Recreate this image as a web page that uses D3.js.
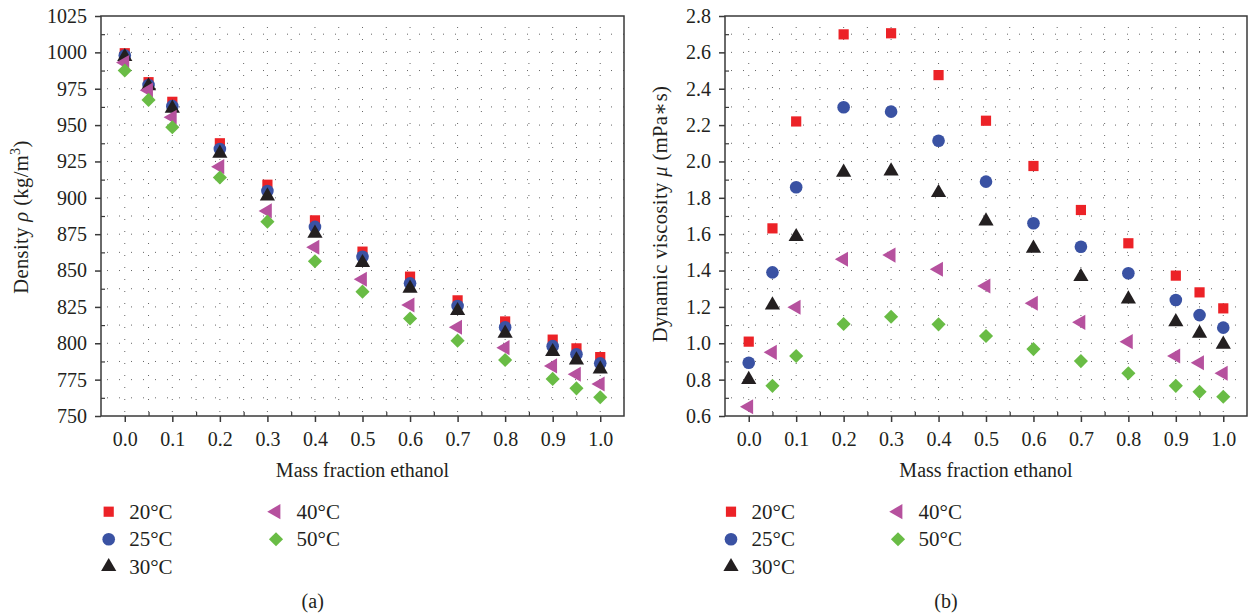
<!DOCTYPE html>
<html><head><meta charset="utf-8">
<script src="https://cdn.jsdelivr.net/npm/d3@7"></script>
<style>
body{margin:0;background:#fff;}
svg{display:block;font-family:"Liberation Serif","DejaVu Serif",serif;}
</style></head>
<body><svg id="c" width="1253" height="616"></svg>
<script>
const massFraction = [0, 0.05, 0.1, 0.2, 0.3, 0.4, 0.5, 0.6, 0.7, 0.8, 0.9, 0.95, 1.0];
const seriesNames = ["20°C", "25°C", "30°C", "40°C", "50°C"];
const density20 = [999.4, 979.5, 966, 937.5, 909, 884.5, 863, 845.8, 829.5, 815, 802.5, 796.5, 790.5];
const density25 = [997.8, 977.6, 963, 933.6, 904.7, 880, 859.5, 841.2, 825.6, 811, 798, 792.4, 786.2];
const density30 = [997, 976.9, 961.5, 930.6, 901.2, 875.6, 855.4, 837.8, 822.4, 806.8, 794.2, 788.5, 782.3];
const density40 = [993, 974, 955.4, 921.4, 891, 866, 844, 826.3, 811, 797, 784.4, 778.7, 772];
const density50 = [987.5, 967.3, 948.5, 914, 883.6, 856.4, 835.5, 817, 801.8, 788.5, 775.5, 769, 762.9];
const visc20 = [1.009, 1.632, 2.22, 2.699, 2.705, 2.475, 2.224, 1.975, 1.733, 1.55, 1.372, 1.28, 1.192];
const visc25 = [0.893, 1.39, 1.858, 2.298, 2.274, 2.114, 1.889, 1.66, 1.531, 1.385, 1.238, 1.155, 1.086];
const visc30 = [0.80, 1.21, 1.586, 1.94, 1.947, 1.828, 1.672, 1.522, 1.366, 1.243, 1.118, 1.055, 0.994];
const visc40 = [0.651, 0.95, 1.198, 1.462, 1.485, 1.407, 1.315, 1.22, 1.115, 1.009, 0.93, 0.893, 0.835];
const visc50 = [null, 0.766, 0.93, 1.106, 1.146, 1.104, 1.04, 0.968, 0.902, 0.835, 0.766, 0.733, 0.706];
const xTicks = [0, 0.1, 0.2, 0.3, 0.4, 0.5, 0.6, 0.7, 0.8, 0.9, 1.0];
const densityTicks = [750, 775, 800, 825, 850, 875, 900, 925, 950, 975, 1000, 1025];
const viscTicks = [0.6, 0.8, 1.0, 1.2, 1.4, 1.6, 1.8, 2.0, 2.2, 2.4, 2.6, 2.8];

const colors = ["#ec2227", "#3a52a3", "#231f20", "#b6519e", "#69bc45"];
const svg = d3.select("#c");
const axisColor = "#3a3a3a";
const textColor = "#231f20";

function markerPath(i){
  if(i===0) return d3.symbol(d3.symbolSquare, 104)();
  if(i===1) return d3.symbol(d3.symbolCircle, 125)();
  if(i===2) return d3.symbol(d3.symbolTriangle, 100)();
  if(i===3) return d3.symbol(d3.symbolTriangle, 100)();
  return d3.symbol(d3.symbolSquare, 100)();
}
function markerRot(i){ return i===3 ? -90 : (i===4 ? 45 : 0); }

function panel(opt){
  const g = svg.append("g");
  const x = d3.scaleLinear().domain([-0.05, 1.05]).range([opt.left, opt.right]);
  const y = d3.scaleLinear().domain(opt.yDomain).range([416, 16]);
  const xs = d3.range(0, 21).map(k => k*0.05);
  const ys = d3.range(0, Math.round((opt.yDomain[1]-opt.yDomain[0])/opt.minor) + 1).map(k => opt.yDomain[0] + k*opt.minor);
  g.append("g").selectAll("line").data(xs).join("line")
    .attr("x1", d=>x(d)).attr("x2", d=>x(d)).attr("y1", 416).attr("y2", 16)
    .attr("stroke", "#666").attr("stroke-width", 1).attr("stroke-dasharray", "1,11").attr("stroke-dashoffset", -4);
  g.append("g").selectAll("line").data(ys.slice(1, -1)).join("line")
    .attr("y1", d=>y(d)).attr("y2", d=>y(d)).attr("x1", opt.left).attr("x2", opt.right)
    .attr("stroke", "#666").attr("stroke-width", 1).attr("stroke-dasharray", "1,11").attr("stroke-dashoffset", -6);
  g.append("rect").attr("x", opt.left).attr("y", 16).attr("width", opt.right-opt.left).attr("height", 400)
    .attr("fill", "none").attr("stroke", axisColor).attr("stroke-width", 1.5);
  const xAxis = d3.axisBottom(x).tickValues(xTicks).tickFormat(d3.format(".1f")).tickSize(6).tickPadding(10);
  const xa = g.append("g").attr("transform", "translate(0,416)").call(xAxis);
  xa.select(".domain").remove();
  xa.selectAll("line").attr("stroke", axisColor).attr("stroke-width", 1.5);
  xa.selectAll("text").attr("font-size", 20).attr("fill", textColor).attr("font-family", "Liberation Serif");
  const xMinor = d3.axisTop(x).tickValues(d3.range(0, 10).map(k => 0.05 + k*0.1)).tickSize(4).tickFormat("");
  const xm = g.append("g").attr("transform", "translate(0,416)").call(xMinor);
  xm.select(".domain").remove();
  xm.selectAll("line").attr("stroke", axisColor).attr("stroke-width", 1.2);
  const yAxis = d3.axisLeft(y).tickValues(opt.yTicks).tickFormat(opt.fmt).tickSize(6).tickPadding(8);
  const ya = g.append("g").attr("transform", `translate(${opt.left},0)`).call(yAxis);
  ya.select(".domain").remove();
  ya.selectAll("line").attr("stroke", axisColor).attr("stroke-width", 1.5);
  ya.selectAll("text").attr("font-size", 20).attr("fill", textColor).attr("font-family", "Liberation Serif");
  const yMinorVals = opt.yTicks.slice(0, -1).map((v, k) => (v + opt.yTicks[k+1]) / 2);
  const yMinor = d3.axisRight(y).tickValues(yMinorVals).tickSize(4).tickFormat("");
  const ym = g.append("g").attr("transform", `translate(${opt.left},0)`).call(yMinor);
  ym.select(".domain").remove();
  ym.selectAll("line").attr("stroke", axisColor).attr("stroke-width", 1.2);
  opt.series.forEach((vals, i) => {
    g.append("g").selectAll("path").data(massFraction.map((m, k) => ({m, v: vals[k]})).filter(d => d.v !== null))
      .join("path").attr("d", markerPath(i))
      .attr("transform", d => `translate(${x(d.m)},${y(d.v)}) rotate(${markerRot(i)})`)
      .attr("fill", colors[i]);
  });
  g.append("text").attr("x", (opt.left+opt.right)/2).attr("y", 477).attr("text-anchor", "middle")
    .attr("font-size", 20).attr("fill", textColor).text("Mass fraction ethanol");
  const yt = g.append("text").attr("transform", `translate(${opt.yTitleX},${opt.yTitleY}) rotate(-90)`).attr("text-anchor", "middle")
    .attr("font-size", 20.5).attr("letter-spacing", 0.4).attr("fill", textColor);
  opt.yTitle(yt);
  const L = opt.legend;
  const pos = [[L.c1, 0], [L.c1, 1], [L.c1, 2], [L.c2, 0], [L.c2, 1]];
  pos.forEach((p, i) => {
    const cy = 511.7 + p[1]*27.5;
    g.append("path").attr("d", markerPath(i)).attr("fill", colors[i])
      .attr("transform", `translate(${p[0]},${cy}) rotate(${markerRot(i)})`);
    g.append("text").attr("x", p[0] + 20.5).attr("y", cy + 7).attr("font-size", 21).attr("fill", textColor)
      .text(seriesNames[i]);
  });
  g.append("text").attr("x", opt.capX).attr("y", 608).attr("text-anchor", "middle").attr("font-size", 20)
    .attr("fill", textColor).text(opt.cap);
}

panel({
  left: 101, right: 624, yDomain: [750, 1025], minor: 12.5, yTicks: densityTicks, fmt: d3.format("d"),
  series: [density20, density25, density30, density40, density50],
  yTitleX: 28, yTitleY: 217,
  yTitle: t => { t.append("tspan").text("Density "); t.append("tspan").attr("font-style", "italic").text("ρ");
    t.append("tspan").text(" (kg/m"); t.append("tspan").attr("dy", -8).attr("font-size", 14).text("3");
    t.append("tspan").attr("dy", 8).text(")"); },
  legend: {c1: 108.7, c2: 276}, capX: 312.7, cap: "(a)"
});
panel({
  left: 725, right: 1247, yDomain: [0.6, 2.8], minor: 0.1, yTicks: viscTicks, fmt: d3.format(".1f"),
  series: [visc20, visc25, visc30, visc40, visc50],
  yTitleX: 667, yTitleY: 214,
  yTitle: t => { t.append("tspan").text("Dynamic viscosity "); t.append("tspan").attr("font-style", "italic").text("μ");
    t.append("tspan").text(" (mPa∗s)"); },
  legend: {c1: 731, c2: 898}, capX: 946, cap: "(b)"
});
</script></body></html>
